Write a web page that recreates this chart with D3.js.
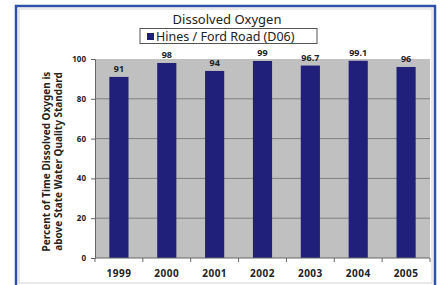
<!DOCTYPE html>
<html>
<head>
<meta charset="utf-8">
<script src="https://cdn.jsdelivr.net/npm/d3@7"></script>
<style>
  body { margin: 0; background: #ffffff; }
  svg { display: block; }
</style>
</head>
<body>
<div id="chart"></div>
<script>
// Data
const years  = ["1999", "2000", "2001", "2002", "2003", "2004", "2005"];
const values = [91, 98, 94, 99, 96.7, 99.1, 96];
const valueLabels = ["91", "98", "94", "99", "96.7", "99.1", "96"];
const yTicks = [0, 20, 40, 60, 80, 100];

const config = {
  width  : 440,
  height : 285,
  plot   : { left: 95, right: 430, top: 59, bottom: 258 },
  barColor  : "#20207a",
  plotColor : "#c0c0c0",
  gridColor : "#808080",
  frameColor: "#2f51a8",
  font      : "'Noto Sans', 'DejaVu Sans', sans-serif"
};

const svg = d3.select("#chart")
  .append("svg")
    .attr("width", config.width)
    .attr("height", config.height);

// outer frame (blue with a faint gray inner line)
svg.append("rect")
  .attr("x", 16).attr("y", 6)
  .attr("width", 419).attr("height", 290)
  .attr("fill", "none")
  .attr("stroke", config.frameColor)
  .attr("stroke-width", 2.5);
svg.append("rect")
  .attr("x", 19).attr("y", 9)
  .attr("width", 413).attr("height", 274)
  .attr("fill", "none")
  .attr("stroke", "#d4d4d4")
  .attr("stroke-width", 1);

const x = d3.scaleBand()
  .domain(years)
  .range([config.plot.left, config.plot.right])
  .paddingInner(0.6)
  .paddingOuter(0.3);

const y = d3.scaleLinear()
  .domain([0, 100])
  .range([config.plot.bottom, config.plot.top]);

// plot background
svg.append("rect")
  .attr("x", config.plot.left)
  .attr("y", config.plot.top)
  .attr("width", config.plot.right - config.plot.left)
  .attr("height", config.plot.bottom - config.plot.top)
  .attr("fill", config.plotColor);

// gridlines
svg.selectAll(".grid")
  .data(yTicks.filter(d => d > 0 && d < 100))
  .enter()
  .append("line")
    .attr("class", "grid")
    .attr("x1", config.plot.left)
    .attr("x2", config.plot.right)
    .attr("y1", d => y(d))
    .attr("y2", d => y(d))
    .attr("stroke", config.gridColor)
    .attr("stroke-width", 1);

// bars
svg.selectAll(".bar")
  .data(values)
  .enter()
  .append("rect")
    .attr("class", "bar")
    .attr("x", (d, i) => x(years[i]))
    .attr("y", d => y(d))
    .attr("width", x.bandwidth())
    .attr("height", d => y(0) - y(d))
    .attr("fill", config.barColor);

// value labels
svg.selectAll(".val")
  .data(values)
  .enter()
  .append("text")
    .attr("class", "val")
    .attr("x", (d, i) => x(years[i]) + x.bandwidth() / 2)
    .attr("y", d => y(d) - 5)
    .attr("text-anchor", "middle")
    .style("font-family", config.font)
    .style("font-size", "9px")
    .style("font-weight", "bold")
    .style("fill", "#222")
    .text((d, i) => valueLabels[i]);

// y axis
const yAxis = svg.append("g")
  .attr("transform", "translate(" + config.plot.left + ",0)")
  .call(d3.axisLeft(y).tickValues(yTicks).tickSize(4).tickPadding(5));
yAxis.select(".domain").attr("stroke", "#666");
yAxis.selectAll(".tick line").attr("stroke", "#666");
yAxis.selectAll("text")
  .style("font-family", config.font)
  .style("font-size", "8px")
  .style("font-weight", "bold")
  .style("fill", "#222");

// x axis: ticks at category boundaries
const xAxisG = svg.append("g");
xAxisG.append("line")
  .attr("x1", config.plot.left).attr("x2", config.plot.right)
  .attr("y1", config.plot.bottom).attr("y2", config.plot.bottom)
  .attr("stroke", "#666");
const bounds = d3.range(years.length + 1).map(i => config.plot.left + i * (config.plot.right - config.plot.left) / years.length);
xAxisG.selectAll(".xtick")
  .data(bounds)
  .enter()
  .append("line")
    .attr("x1", d => d).attr("x2", d => d)
    .attr("y1", config.plot.bottom).attr("y2", config.plot.bottom + 4)
    .attr("stroke", "#666");
xAxisG.selectAll(".xlab")
  .data(years)
  .enter()
  .append("text")
    .attr("x", d => x(d) + x.bandwidth() / 2)
    .attr("y", 277)
    .attr("text-anchor", "middle")
    .style("font-family", config.font)
    .style("font-size", "10px")
    .style("font-weight", "bold")
    .style("letter-spacing", "0.5px")
    .style("fill", "#222")
    .text(d => d);

// y axis title (two lines)
const midY = (config.plot.top + config.plot.bottom) / 2 + 3;
["Percent of Time Dissolved Oxygen is", "above State Water Quality Standard"].forEach((t, i) => {
  svg.append("text")
    .attr("transform", "translate(" + (50 + i * 12) + "," + midY + ") rotate(-90)")
    .attr("text-anchor", "middle")
    .style("font-family", config.font)
    .style("font-size", "10px")
    .style("font-weight", "bold")
    .style("fill", "#222")
    .text(t);
});

// title
svg.append("text")
  .attr("x", 227)
  .attr("y", 24)
  .attr("text-anchor", "middle")
  .style("font-family", config.font)
  .style("font-size", "13px")
  .style("fill", "#222")
  .text("Dissolved Oxygen");

// legend
const legend = svg.append("g");
legend.append("rect")
  .attr("x", 140).attr("y", 28.5)
  .attr("width", 177).attr("height", 15)
  .attr("fill", "#fff")
  .attr("stroke", "#555")
  .attr("stroke-width", 1);
legend.append("rect")
  .attr("x", 147).attr("y", 33)
  .attr("width", 7).attr("height", 7)
  .attr("fill", config.barColor);
legend.append("text")
  .attr("x", 156).attr("y", 40.5)
  .style("font-family", config.font)
  .style("font-size", "12.5px")
  .style("fill", "#222")
  .text("Hines / Ford Road (D06)");
</script>
</body>
</html>
